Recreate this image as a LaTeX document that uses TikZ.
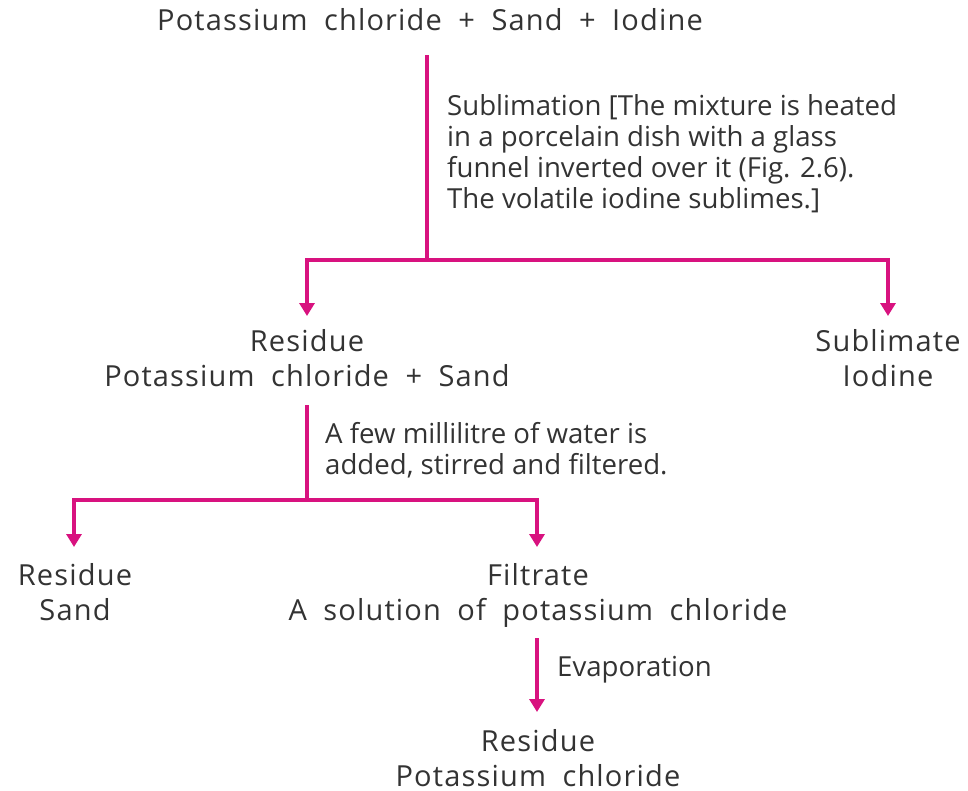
\documentclass[tikz,border=0pt]{standalone}
\usepackage{fontspec}
\setmainfont{Open Sans}
\newfontfamily\stepfont[LetterSpace=4,WordSpace=1.9]{Open Sans}
\usetikzlibrary{arrows.meta}
\definecolor{flowpink}{HTML}{D8127F}
\definecolor{inkgrey}{HTML}{333333}
\tikzset{
  x=1pt, y=-1pt,
  stage/.style={text=inkgrey, align=center, inner sep=0pt,
    font=\stepfont\fontsize{29}{35}\selectfont},
  note/.style={text=inkgrey, align=left, inner sep=0pt, anchor=west,
    font=\fontsize{27.6}{31}\selectfont},
  flow/.style={draw=flowpink, line width=3.2pt},
  flowarrow/.style={flow, -{Triangle[width=15pt,length=13pt]}},
}
\begin{document}
\begin{tikzpicture}
\useasboundingbox (0,0) rectangle (968,790);

% separation stages
\node[stage] (mix) at (430,20) {Potassium chloride + Sand + Iodine};
\node[stage, anchor=north] (kcsand) at (307,329) {Residue\\Potassium chloride + Sand};
\node[stage, anchor=north] (iodine) at (888,329) {Sublimate\\Iodine};
\node[stage, anchor=north] (sand) at (75,563) {Residue\\Sand};
\node[stage, anchor=north] (filtrate) at (538,563) {Filtrate\\A solution of potassium chloride};
\node[stage, anchor=north] (kcl) at (538,729) {Residue\\Potassium chloride};

% branch points
\coordinate (j1) at (427,260);
\coordinate (j2) at (307,500);
\coordinate (top1) at (427,55);
\coordinate (top2) at (307,405);
\coordinate (top3) at (537,638);

% connectors
\draw[flow] (top1) -- (j1);
\draw[flowarrow] (j1) -| ([yshift=13pt]kcsand.north);
\draw[flowarrow] (j1) -| ([yshift=13pt]iodine.north);
\draw[flow] (top2) -- (j2);
\draw[flowarrow] (j2) -| ([xshift=-1pt,yshift=16pt]sand.north);
\draw[flowarrow] (j2) -| ([xshift=-1pt,yshift=16pt]filtrate.north);
\draw[flowarrow] (top3) -- ([xshift=-1pt,yshift=17pt]kcl.north);

% process notes
\node[note] (n1) at (447,154) {Sublimation [The mixture is heated\\in a porcelain dish with a glass\\funnel inverted over it (Fig. 2.6).\\The volatile iodine sublimes.]};
\node[note] (n2) at (325,450) {A few millilitre of water is\\added, stirred and filtered.};
\node[note] (n3) at (557,670) {Evaporation};
\end{tikzpicture}
\end{document}
